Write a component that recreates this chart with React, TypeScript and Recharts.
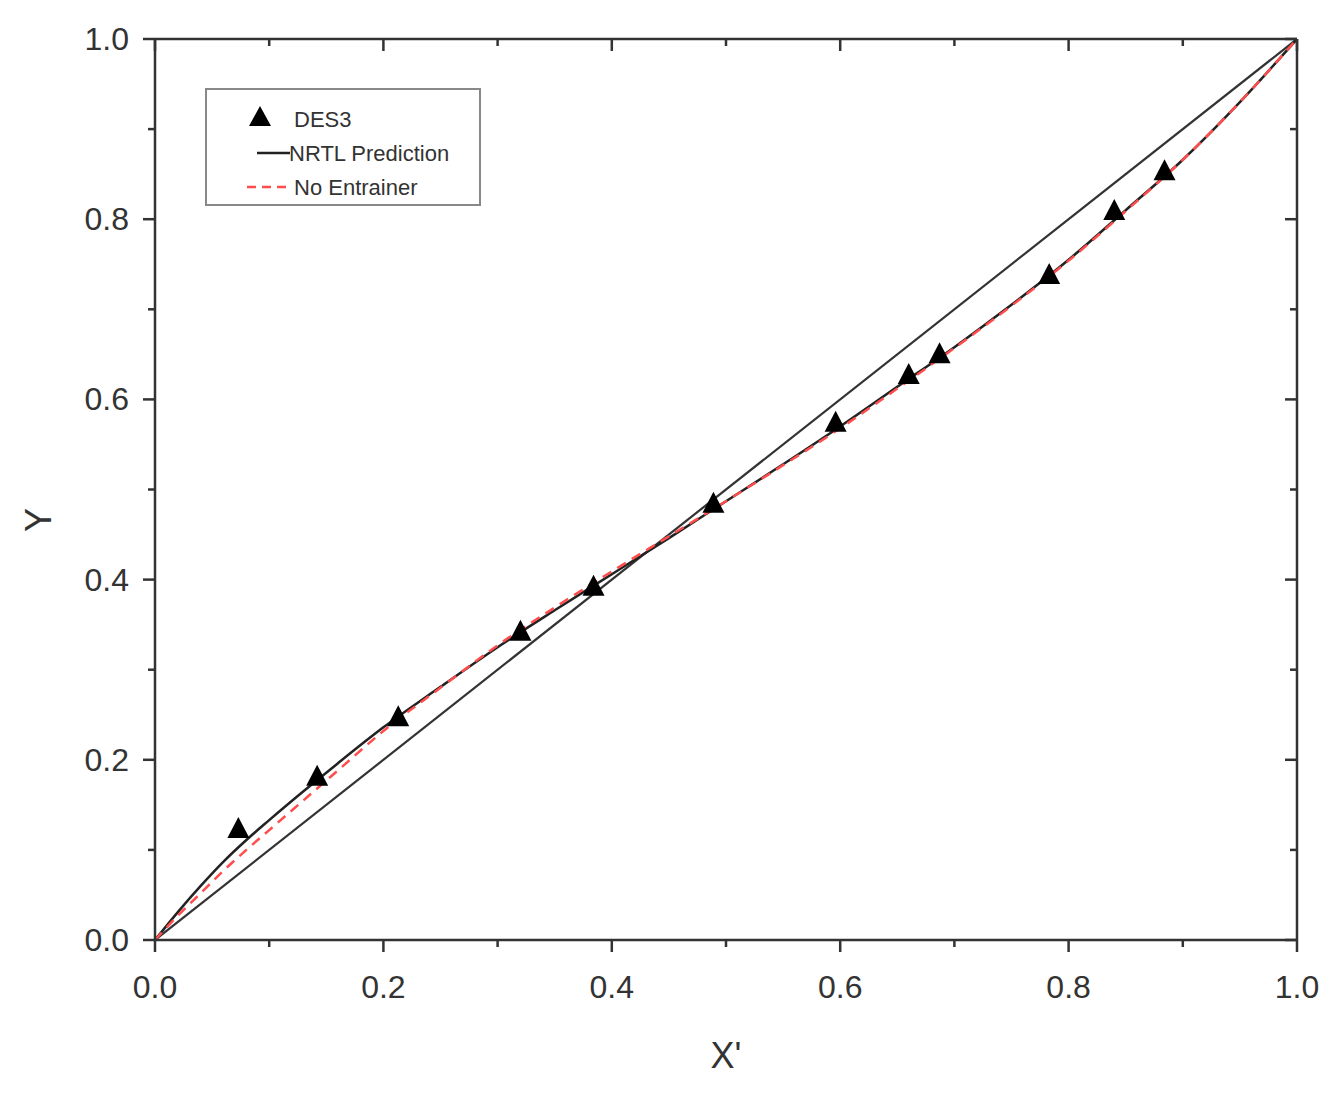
import React from 'react';
import { ComposedChart, Line, Scatter, XAxis, YAxis, Label } from 'recharts';

const tickValues = [0, 0.1, 0.2, 0.3, 0.4, 0.5, 0.6, 0.7, 0.8, 0.9, 1.0];

const des3X = [0.073, 0.142, 0.213, 0.32, 0.384, 0.489, 0.596, 0.66, 0.687, 0.783, 0.84, 0.884];
const des3Y = [0.122, 0.18, 0.246, 0.341, 0.391, 0.483, 0.573, 0.626, 0.649, 0.737, 0.808, 0.852];

const nrtlX = [0, 0.02, 0.04, 0.06, 0.08, 0.1, 0.13, 0.16, 0.2, 0.25, 0.3, 0.35, 0.4, 0.45, 0.5, 0.55, 0.6, 0.65, 0.7, 0.75, 0.8, 0.85, 0.9, 0.95, 1.0];
const nrtlY = [0, 0.031, 0.06, 0.087, 0.111, 0.133, 0.165, 0.196, 0.236, 0.281, 0.325, 0.366, 0.406, 0.446, 0.487, 0.528, 0.57, 0.614, 0.658, 0.705, 0.755, 0.81, 0.866, 0.93, 1.0];

const noEntX = [0, 0.02, 0.04, 0.06, 0.08, 0.1, 0.13, 0.16, 0.2, 0.25, 0.3, 0.35, 0.4, 0.45, 0.5, 0.55, 0.6, 0.65, 0.7, 0.75, 0.8, 0.85, 0.9, 0.95, 1.0];
const noEntY = [0, 0.027, 0.052, 0.077, 0.1, 0.122, 0.155, 0.188, 0.232, 0.28, 0.327, 0.369, 0.409, 0.448, 0.487, 0.527, 0.568, 0.612, 0.657, 0.704, 0.754, 0.809, 0.866, 0.93, 1.0];

const diagX = [0, 1];
const diagY = [0, 1];

const legendNames = ['DES3', 'NRTL Prediction', 'No Entrainer'];

const des3Data = des3X.map((x, i) => ({ x, y: des3Y[i] }));
const nrtlData = nrtlX.map((x, i) => ({ x, y: nrtlY[i] }));
const noEntData = noEntX.map((x, i) => ({ x, y: noEntY[i] }));
const diagData = diagX.map((x, i) => ({ x, y: diagY[i] }));

const FONT = '"Liberation Sans", Arial, sans-serif';
const AX = '#333';
const RED = '#ff4d4d';

const isMajor = (v: number) => Math.round(v * 10) % 2 === 0;

const BottomTick = (props: any) => {
  const { x, y, payload } = props;
  const major = isMajor(payload.value);
  return (
    <g>
      <line x1={x} x2={x} y1={y} y2={y + (major ? 12 : 7)} stroke={AX} strokeWidth={2.5} />
      {major && (
        <text x={x} y={y + 47} textAnchor="middle" dominantBaseline="central" fontSize={32} fill={AX} fontFamily={FONT}>
          {payload.value.toFixed(1)}
        </text>
      )}
    </g>
  );
};

const LeftTick = (props: any) => {
  const { x, y, payload } = props;
  const major = isMajor(payload.value);
  return (
    <g>
      <line x1={x - (major ? 12 : 7)} x2={x} y1={y} y2={y} stroke={AX} strokeWidth={2.5} />
      {major && (
        <text x={x - 26} y={y} textAnchor="end" dominantBaseline="central" fontSize={32} fill={AX} fontFamily={FONT}>
          {payload.value.toFixed(1)}
        </text>
      )}
    </g>
  );
};

const TopTick = (props: any) => {
  const { x, y, payload } = props;
  const major = isMajor(payload.value);
  return <line x1={x} x2={x} y1={y} y2={y + (major ? 12 : 7)} stroke={AX} strokeWidth={2.5} />;
};

const RightTick = (props: any) => {
  const { x, y, payload } = props;
  const major = isMajor(payload.value);
  return <line x1={x - (major ? 12 : 7)} x2={x} y1={y} y2={y} stroke={AX} strokeWidth={2.5} />;
};

const Triangle = (props: any) => {
  const { cx, cy } = props;
  if (cx == null || cy == null) return null;
  return <polygon points={`${cx},${cy - 13} ${cx - 11},${cy + 8} ${cx + 11},${cy + 8}`} fill="#000" />;
};

const LegendBox = () => (
  <div
    style={{
      position: 'absolute',
      left: 205,
      top: 88,
      width: 276,
      height: 118,
      border: '2px solid #888',
      boxSizing: 'border-box',
      background: '#fff',
    }}
  >
    <svg width={272} height={114} style={{ display: 'block' }}>
      <polygon points="53,16 42,36 64,36" fill="#000" />
      <text x={87} y={29} dominantBaseline="central" fontSize={22} fill={AX} fontFamily={FONT}>{legendNames[0]}</text>
      <line x1={50} x2={83} y1={63} y2={63} stroke="#222" strokeWidth={2.5} />
      <text x={82} y={63} dominantBaseline="central" fontSize={22} fill={AX} fontFamily={FONT}>{legendNames[1]}</text>
      <line x1={40} x2={82} y1={97} y2={97} stroke={RED} strokeWidth={2.5} strokeDasharray="9 6" />
      <text x={87} y={97} dominantBaseline="central" fontSize={22} fill={AX} fontFamily={FONT}>{legendNames[2]}</text>
    </svg>
  </div>
);

export default function App() {
  return (
    <div style={{ position: 'absolute', left: 0, top: 0, width: 1342, height: 1094, background: '#fff' }}>
      <ComposedChart width={1342} height={1094} margin={{ top: 38, right: 44, bottom: 64, left: 0 }}>
        <XAxis
          xAxisId="b"
          type="number"
          dataKey="x"
          domain={[0, 1]}
          ticks={tickValues}
          interval={0}
          height={90}
          tickSize={0}
          tickMargin={0}
          tickLine={false}
          tick={<BottomTick />}
          axisLine={{ stroke: AX, strokeWidth: 2.5 }}
          allowDataOverflow
        >
          <Label
            content={(p: any) => {
              const vb = p.viewBox;
              return (
                <text x={vb.x + vb.width / 2} y={vb.y + 115} textAnchor="middle" dominantBaseline="central" fontSize={36} fill={AX} fontFamily={FONT}>
                  X'
                </text>
              );
            }}
          />
        </XAxis>
        <XAxis
          xAxisId="t"
          orientation="top"
          type="number"
          dataKey="x"
          domain={[0, 1]}
          ticks={tickValues}
          interval={0}
          height={1}
          tickSize={0}
          tickMargin={0}
          tickLine={false}
          tick={<TopTick />}
          axisLine={{ stroke: AX, strokeWidth: 2.5 }}
          allowDataOverflow
        />
        <YAxis
          yAxisId="l"
          type="number"
          dataKey="y"
          domain={[0, 1]}
          ticks={tickValues}
          interval={0}
          width={155}
          tickSize={0}
          tickMargin={0}
          tickLine={false}
          tick={<LeftTick />}
          axisLine={{ stroke: AX, strokeWidth: 2.5 }}
          allowDataOverflow
        >
          <Label
            content={(p: any) => {
              const vb = p.viewBox;
              const cx = vb.x + 38;
              const cy = 520;
              return (
                <text x={cx} y={cy} textAnchor="middle" dominantBaseline="central" fontSize={36} fill={AX} fontFamily={FONT} transform={`rotate(-90 ${cx} ${cy})`}>
                  Y
                </text>
              );
            }}
          />
        </YAxis>
        <YAxis
          yAxisId="r"
          orientation="right"
          type="number"
          dataKey="y"
          domain={[0, 1]}
          ticks={tickValues}
          interval={0}
          width={1}
          tickSize={0}
          tickMargin={0}
          tickLine={false}
          tick={<RightTick />}
          axisLine={{ stroke: AX, strokeWidth: 2.5 }}
          allowDataOverflow
        />
        <Line
          xAxisId="t"
          yAxisId="r"
          data={diagData}
          dataKey="y"
          type="linear"
          stroke="#333"
          strokeWidth={2.2}
          dot={false}
          activeDot={false}
          isAnimationActive={false}
          legendType="none"
        />
        <Line
          xAxisId="b"
          yAxisId="l"
          data={nrtlData}
          dataKey="y"
          name={legendNames[1]}
          type="monotone"
          stroke="#222"
          strokeWidth={2.5}
          dot={false}
          activeDot={false}
          isAnimationActive={false}
        />
        <Line
          xAxisId="b"
          yAxisId="l"
          data={noEntData}
          dataKey="y"
          name={legendNames[2]}
          type="monotone"
          stroke={RED}
          strokeWidth={2.5}
          strokeDasharray="10 7"
          dot={false}
          activeDot={false}
          isAnimationActive={false}
        />
        <Scatter
          xAxisId="b"
          yAxisId="l"
          data={des3Data}
          dataKey="y"
          name={legendNames[0]}
          shape={<Triangle />}
          isAnimationActive={false}
        />
      </ComposedChart>
      <LegendBox />
    </div>
  );
}
